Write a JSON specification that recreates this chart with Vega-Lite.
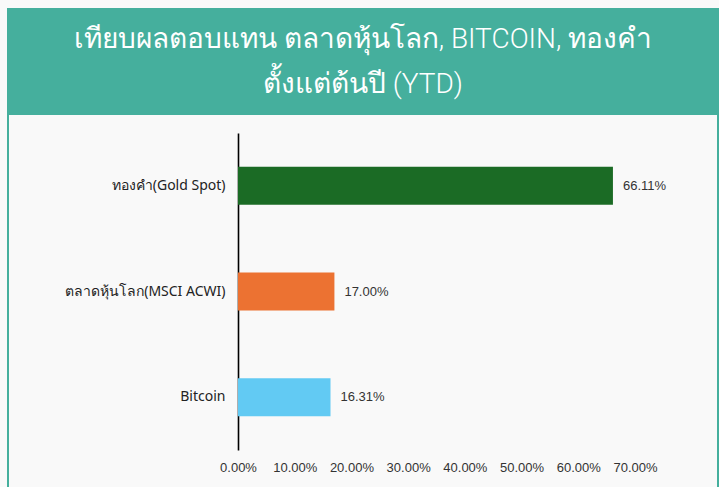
{
  "$schema": "https://vega.github.io/schema/vega-lite/v6.json",
  "background": "#F9F9F9",
  "padding": {"left": 7, "top": 8, "right": 0, "bottom": 0},
  "spacing": 0,
  "config": {
    "font": "Liberation Sans",
    "concat": {"spacing": 0}
  },
  "vconcat": [
    {
      "width": 710,
      "height": 103,
      "view": {"fill": "#45AF9D", "stroke": "#45AF9D", "strokeWidth": 2},
      "data": {"values": [
        {"line": 1, "text": "เทียบผลตอบแทน ตลาดหุ้นโลก, BITCOIN, ทองคำ"},
        {"line": 2, "text": "ตั้งแต่ต้นปี (YTD)"}
      ]},
      "mark": {"type": "text", "color": "white", "fontSize": 28, "fontWeight": 300, "baseline": "middle", "align": "center", "font": "Roboto"},
      "encoding": {
        "y": {"field": "line", "type": "ordinal", "scale": {"type": "point", "range": [31, 76], "padding": 0}, "axis": null},
        "text": {"field": "text"}
      }
    },
    {
      "width": 710,
      "height": 380,
      "view": {"fill": "#F9F9F9", "stroke": "#45AF9D", "strokeWidth": 2},
      "data": {"values": [
        {"asset": "ทองคำ(Gold Spot)", "ret": 0.6611, "order": 1},
        {"asset": "ตลาดหุ้นโลก(MSCI ACWI)", "ret": 0.17, "order": 2},
        {"asset": "Bitcoin", "ret": 0.1631, "order": 3}
      ]},
      "encoding": {
        "y": {
          "field": "asset", "type": "nominal",
          "sort": {"field": "order"},
          "scale": {"range": [19, 336], "paddingInner": 0.64, "paddingOuter": 0.32},
          "axis": {
            "title": null, "orient": "left", "offset": -230,
            "domainColor": "#000000", "domainWidth": 1.6,
            "ticks": false, "tickSize": 0, "labelPadding": 13,
            "labelFontSize": 14, "labelColor": "#222222", "labelFont": "Noto Sans"
          }
        },
        "x": {
          "field": "ret", "type": "quantitative",
          "scale": {"domain": [0, 0.7], "range": [230, 627], "nice": false},
          "axis": {
            "title": null, "orient": "bottom", "offset": -44,
            "format": ".2%", "values": [0, 0.1, 0.2, 0.3, 0.4, 0.5, 0.6, 0.7],
            "domain": false, "ticks": false, "tickSize": 0, "grid": false,
            "labelOverlap": false, "labelBound": false, "labelFlush": false,
            "labelPadding": 11, "labelFontSize": 13, "labelColor": "#333333", "labelFont": "Liberation Sans"
          }
        }
      },
      "layer": [
        {
          "mark": {"type": "bar"},
          "encoding": {
            "color": {
              "field": "asset", "type": "nominal", "legend": null,
              "scale": {
                "domain": ["ทองคำ(Gold Spot)", "ตลาดหุ้นโลก(MSCI ACWI)", "Bitcoin"],
                "range": ["#1B6B25", "#EC7232", "#62CAF3"]
              }
            }
          }
        },
        {
          "mark": {"type": "text", "align": "left", "baseline": "middle", "dx": 10, "fontSize": 13, "color": "#333333", "font": "Liberation Sans"},
          "encoding": {
            "text": {"field": "ret", "type": "quantitative", "format": ".2%"}
          }
        }
      ]
    }
  ]
}
